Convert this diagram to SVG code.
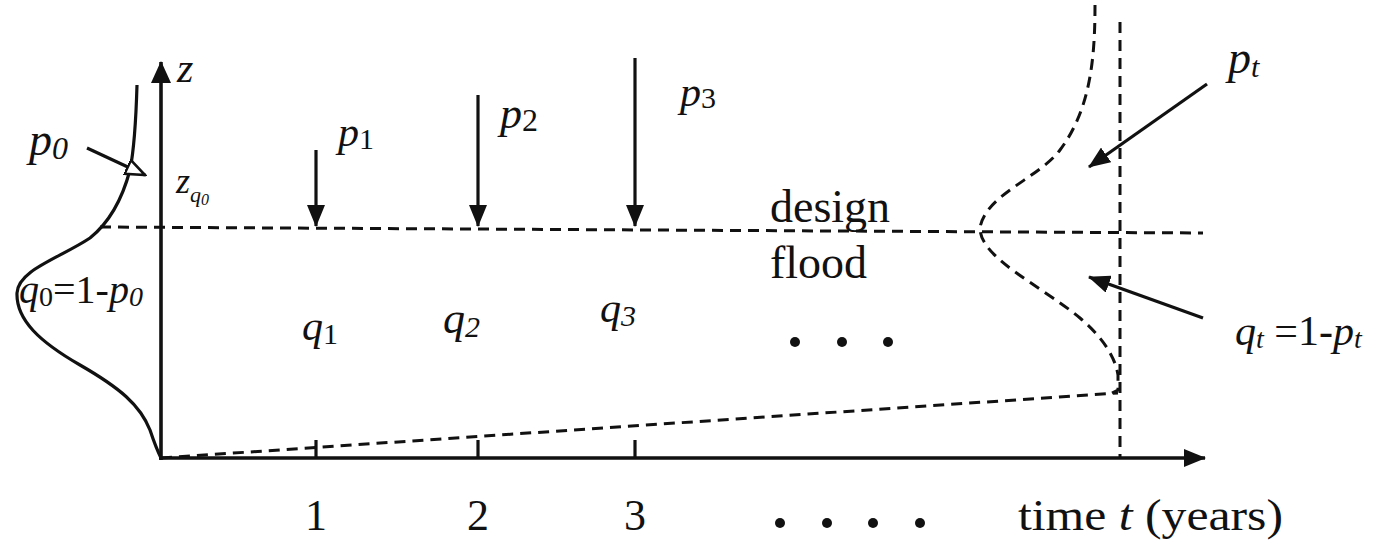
<svg xmlns="http://www.w3.org/2000/svg" width="1384" height="541" viewBox="0 0 1384 541">
<style>
text{font-family:"Liberation Serif","Times New Roman","DejaVu Serif",serif;fill:#111}
.it{font-style:italic;font-family:"Liberation Serif","Times New Roman","DejaVu Serif",serif}
.ax{stroke:#111;stroke-width:3.6;fill:none}
.ar{stroke:#111;stroke-width:3.2;fill:none}
.ds{stroke:#111;stroke-width:3;fill:none;stroke-dasharray:11 7}
.cv{stroke:#111;stroke-width:3.2;fill:none}
</style>
<defs>
<marker id="ah" viewBox="0 0 22 18" refX="21" refY="9" markerWidth="22" markerHeight="18" orient="auto" markerUnits="userSpaceOnUse"><path d="M0,0 L22,9 L0,18 Z" fill="#111"/></marker>
<marker id="ahA" viewBox="0 0 22 20" refX="21" refY="10" markerWidth="22" markerHeight="20" orient="auto" markerUnits="userSpaceOnUse"><path d="M0,0 L22,10 L0,20 Z" fill="#111"/></marker>
<marker id="ahO" viewBox="0 0 22 18" refX="20" refY="9" markerWidth="22" markerHeight="18" orient="auto" markerUnits="userSpaceOnUse"><path d="M1,1.5 L20,9 L1,16.5 Z" fill="#fff" stroke="#111" stroke-width="2.6"/></marker>
</defs>

<g id="connectors">
  <line class="ds" x1="100" y1="227" x2="1203" y2="233"/>
  <line class="ds" x1="161" y1="458" x2="1118" y2="393"/>
  <line class="ds" x1="1120" y1="22" x2="1120" y2="458"/>
  <line class="ar" x1="316" y1="150" x2="316" y2="226" marker-end="url(#ah)"/>
  <line class="ar" x1="478" y1="95" x2="478" y2="226" marker-end="url(#ah)"/>
  <line class="ar" x1="635" y1="58" x2="635" y2="226" marker-end="url(#ah)"/>
  <line class="ar" x1="1207" y1="84" x2="1089" y2="167" marker-end="url(#ah)"/>
  <line class="ar" x1="1203" y1="318" x2="1089" y2="277" marker-end="url(#ah)"/>
</g>

<g id="axes">
  <line class="ax" x1="161" y1="460" x2="161" y2="62" marker-end="url(#ahA)"/>
  <line class="ax" x1="159" y1="458" x2="1205" y2="458" marker-end="url(#ah)"/>
  <line class="ar" x1="316" y1="458" x2="316" y2="440"/>
  <line class="ar" x1="478" y1="458" x2="478" y2="440"/>
  <line class="ar" x1="635" y1="458" x2="635" y2="440"/>
  <text class="it" x="177" y="82" font-size="42">z</text>
  <text x="316" y="530" font-size="44" text-anchor="middle">1</text>
  <text x="478" y="530" font-size="44" text-anchor="middle">2</text>
  <text x="635" y="530" font-size="44" text-anchor="middle">3</text>
  <text x="1018" y="530" font-size="44" textLength="265" lengthAdjust="spacingAndGlyphs">time  <tspan class="it">t</tspan> (years)</text>
  <g fill="#111"><circle cx="780" cy="523" r="5"/><circle cx="827" cy="523" r="5"/><circle cx="873" cy="523" r="5"/><circle cx="920" cy="523" r="5"/></g>
</g>

<g id="initial-distribution">
  <path class="cv" d="M137,85 C136,120 134,150 130,170 C122,200 110,222 90,238 C60,258 18,270 17,293 C16,320 40,342 80,365 C120,388 140,405 150,430 C155,445 158,452 161,458"/>
  <line class="ar" x1="87" y1="148" x2="145" y2="175" marker-end="url(#ahO)"/>
  <text class="it" x="29" y="155" font-size="46">p<tspan font-size="32" dy="4">0</tspan></text>
  <text class="it" x="176" y="193" font-size="36">z<tspan font-size="22" dy="9">q<tspan font-size="16" dy="3">0</tspan></tspan></text>
  <text x="19" y="303" font-size="40"><tspan class="it">q</tspan><tspan font-size="28" dy="3">0</tspan><tspan dy="-3">=1-</tspan><tspan class="it">p</tspan><tspan font-size="28" dy="3" class="it">0</tspan></text>
</g>

<g id="year-labels">
  <text class="it" x="338" y="146" font-size="42">p<tspan font-style="normal" font-size="30" dy="3">1</tspan></text>
  <text class="it" x="500" y="128" font-size="44">p<tspan font-style="normal" font-size="32" dy="3">2</tspan></text>
  <text class="it" x="680" y="106" font-size="42">p<tspan font-style="normal" font-size="30" dy="2">3</tspan></text>
  <text class="it" x="302" y="340" font-size="42">q<tspan font-style="normal" font-size="30" dy="4">1</tspan></text>
  <text class="it" x="443" y="333" font-size="44">q<tspan font-size="30" dy="4">2</tspan></text>
  <text class="it" x="600" y="322" font-size="42">q<tspan font-size="30" dy="4">3</tspan></text>
  <g fill="#111"><circle cx="795" cy="342" r="5"/><circle cx="842" cy="342" r="5"/><circle cx="888" cy="342" r="5"/></g>
</g>

<g id="design-flood">
  <text x="770" y="222" font-size="46">design</text>
  <text x="770" y="278" font-size="46">flood</text>
</g>

<g id="final-distribution">
  <path class="ds" d="M1095,5 C1095,60 1090,110 1060,150 C1039,178 985,195 980,228 C980,258 1040,285 1080,318 C1100,335 1115,355 1118,375 L1118,390 L1112,393"/>
  <text class="it" x="1228" y="73" font-size="46">p<tspan font-size="30" dy="4">t</tspan></text>
  <text x="1235" y="345" font-size="42"><tspan class="it">q</tspan><tspan class="it" font-size="28" dy="3">t</tspan><tspan dy="-3"> =1-</tspan><tspan class="it">p</tspan><tspan class="it" font-size="28" dy="3">t</tspan></text>
</g>
</svg>
